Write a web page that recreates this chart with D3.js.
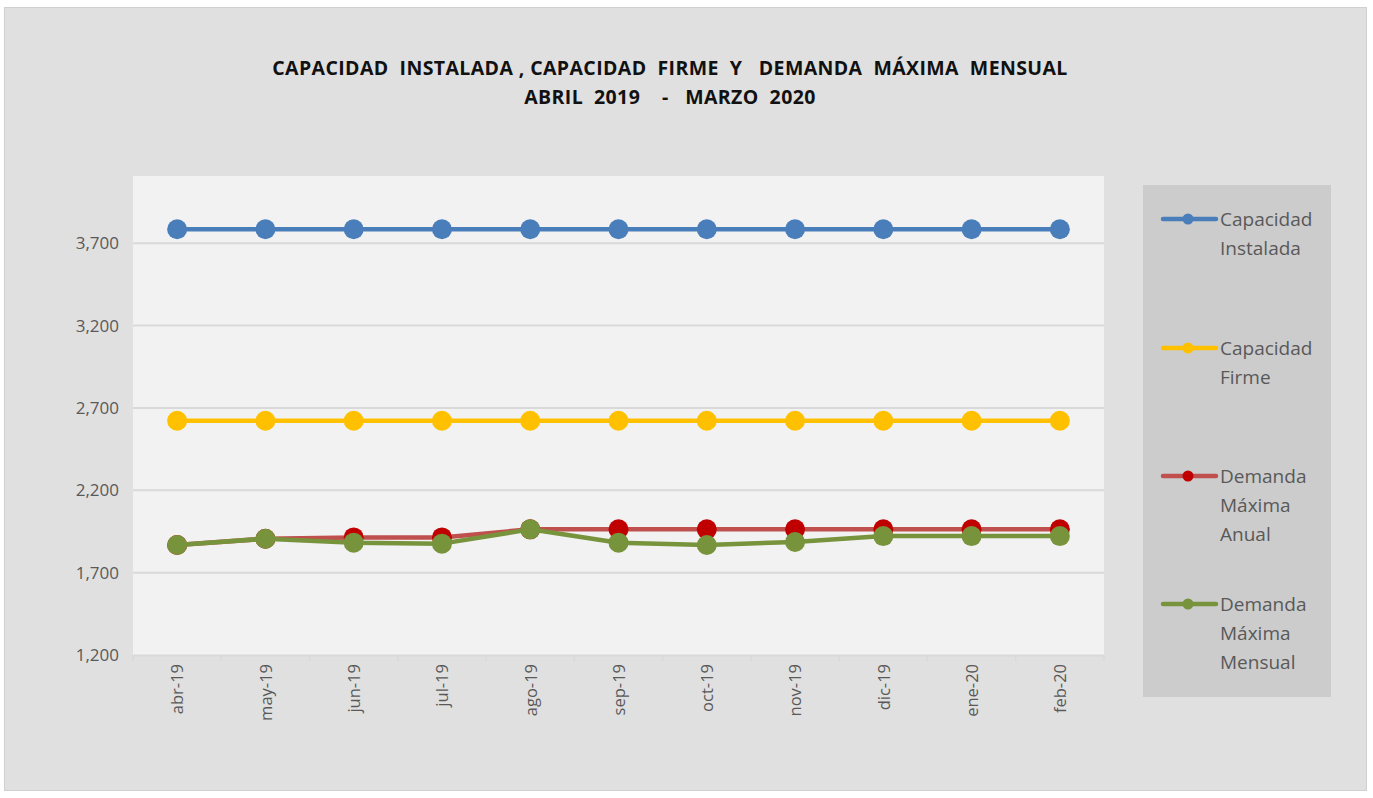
<!DOCTYPE html>
<html><head><meta charset="utf-8">
<script src="https://cdnjs.cloudflare.com/ajax/libs/d3/7.8.5/d3.min.js"></script>
<style>
html,body{margin:0;padding:0;background:#fff;}
svg{display:block;}
</style></head>
<body><svg id="chart" width="1373" height="798"></svg>
<script>
const categories = ["abr-19","may-19","jun-19","jul-19","ago-19","sep-19","oct-19","nov-19","dic-19","ene-20","feb-20"];
const capacidadInstalada = [3785,3785,3785,3785,3785,3785,3785,3785,3785,3785,3785];
const capacidadFirme = [2622,2622,2622,2622,2622,2622,2622,2622,2622,2622,2622];
const demandaAnual = [1868,1906,1914,1914,1963,1963,1963,1963,1963,1963,1963];
const demandaMensual = [1868,1906,1882,1876,1963,1882,1868,1886,1922,1922,1922];
const yTicks = [1200,1700,2200,2700,3200,3700];
const titleLines = ["CAPACIDAD  INSTALADA , CAPACIDAD  FIRME  Y   DEMANDA  MÁXIMA  MENSUAL","ABRIL  2019    -   MARZO  2020"];

const series = [
  {name:["Capacidad","Instalada"], values:capacidadInstalada, line:"#4a7ebb", marker:"#4a7ebb"},
  {name:["Capacidad","Firme"], values:capacidadFirme, line:"#ffc000", marker:"#ffc000"},
  {name:["Demanda","Máxima","Anual"], values:demandaAnual, line:"#c0504d", marker:"#c00000"},
  {name:["Demanda","Máxima","Mensual"], values:demandaMensual, line:"#77933c", marker:"#77933c"}
];

const svg = d3.select("#chart");
const font = "'Open Sans', 'Liberation Sans', sans-serif";

// outer chart area
svg.append("rect").attr("x",4.5).attr("y",7.5).attr("width",1362).attr("height",783)
  .attr("fill","#e0e0e0").attr("stroke","#d0d0d0").attr("stroke-width",1);

const plot = {left:133, top:176, right:1104, bottom:655};
svg.append("rect").attr("x",plot.left).attr("y",plot.top)
  .attr("width",plot.right-plot.left).attr("height",plot.bottom-plot.top).attr("fill","#f2f2f2");

const x = d3.scalePoint().domain(categories).range([plot.left,plot.right]).padding(0.5);
const y = d3.scaleLinear().domain([1200,4108]).range([plot.bottom,plot.top]);

// gridlines
svg.append("g").selectAll("line").data(yTicks.slice(1)).join("line")
  .attr("x1",plot.left).attr("x2",plot.right)
  .attr("y1",d=>y(d)).attr("y2",d=>y(d))
  .attr("stroke","#d9d9d9").attr("stroke-width",2);

// y axis labels
const yAxis = d3.axisLeft(y).tickValues(yTicks).tickFormat(d3.format(",")).tickSize(0).tickPadding(14);
const gy = svg.append("g").attr("transform",`translate(${plot.left},0)`).call(yAxis);
gy.select(".domain").remove();
gy.selectAll("text").attr("font-family",font).attr("font-size",17).attr("fill","#595959");

// x axis
const bandW = (plot.right-plot.left)/categories.length;
const xAxis = d3.axisBottom(x).tickSize(0).tickPadding(10);
const gx = svg.append("g").attr("transform",`translate(0,${plot.bottom})`).call(xAxis);
gx.select(".domain").attr("stroke","#d9d9d9").attr("stroke-width",2);
gx.selectAll("text").attr("font-family",font).attr("font-size",16.5).attr("fill","#595959")
  .attr("transform",function(){return "rotate(-90)";})
  .attr("text-anchor","end").attr("dy","0.35em")
  .attr("x",-9).attr("y",0);
// boundary tick marks
svg.append("g").selectAll("line").data(d3.range(categories.length+1)).join("line")
  .attr("x1",i=>plot.left+i*bandW).attr("x2",i=>plot.left+i*bandW)
  .attr("y1",plot.bottom).attr("y2",plot.bottom+6)
  .attr("stroke","#d9d9d9").attr("stroke-width",1.5);

// lines
const line = d3.line().x((d,i)=>x(categories[i])).y(d=>y(d));
series.forEach(s=>{
  svg.append("path").datum(s.values).attr("d",line)
    .attr("fill","none").attr("stroke",s.line).attr("stroke-width",4.5).attr("stroke-linejoin","round");
  svg.append("g").selectAll("circle").data(s.values).join("circle")
    .attr("cx",(d,i)=>x(categories[i])).attr("cy",d=>y(d)).attr("r",10)
    .attr("fill",s.marker);
});

// title
svg.append("g").selectAll("text").data(titleLines).join("text")
  .attr("x",670).attr("y",(d,i)=>75+i*29)
  .attr("text-anchor","middle").attr("font-family",font).attr("font-weight","bold")
  .attr("font-size",19.5).attr("letter-spacing",0.4).attr("fill","#111").style("white-space","pre")
  .attr("xml:space","preserve")
  .text(d=>d);

// legend
svg.append("rect").attr("x",1143).attr("y",185).attr("width",188).attr("height",512).attr("fill","#cccccc");
const legY = [219,348,476,604];
series.forEach((s,i)=>{
  const g = svg.append("g").attr("transform",`translate(0,${legY[i]})`);
  g.append("line").attr("x1",1163).attr("x2",1216).attr("y1",0).attr("y2",0)
    .attr("stroke",s.line).attr("stroke-width",4.5).attr("stroke-linecap","round");
  g.append("circle").attr("cx",1188).attr("cy",0).attr("r",5.5).attr("fill",s.marker);
  g.selectAll("text").data(s.name).join("text")
    .attr("x",1220).attr("y",(d,j)=>j*29).attr("dy","0.35em")
    .attr("font-family",font).attr("font-size",19).attr("fill","#595959").text(d=>d);
});
</script></body></html>
